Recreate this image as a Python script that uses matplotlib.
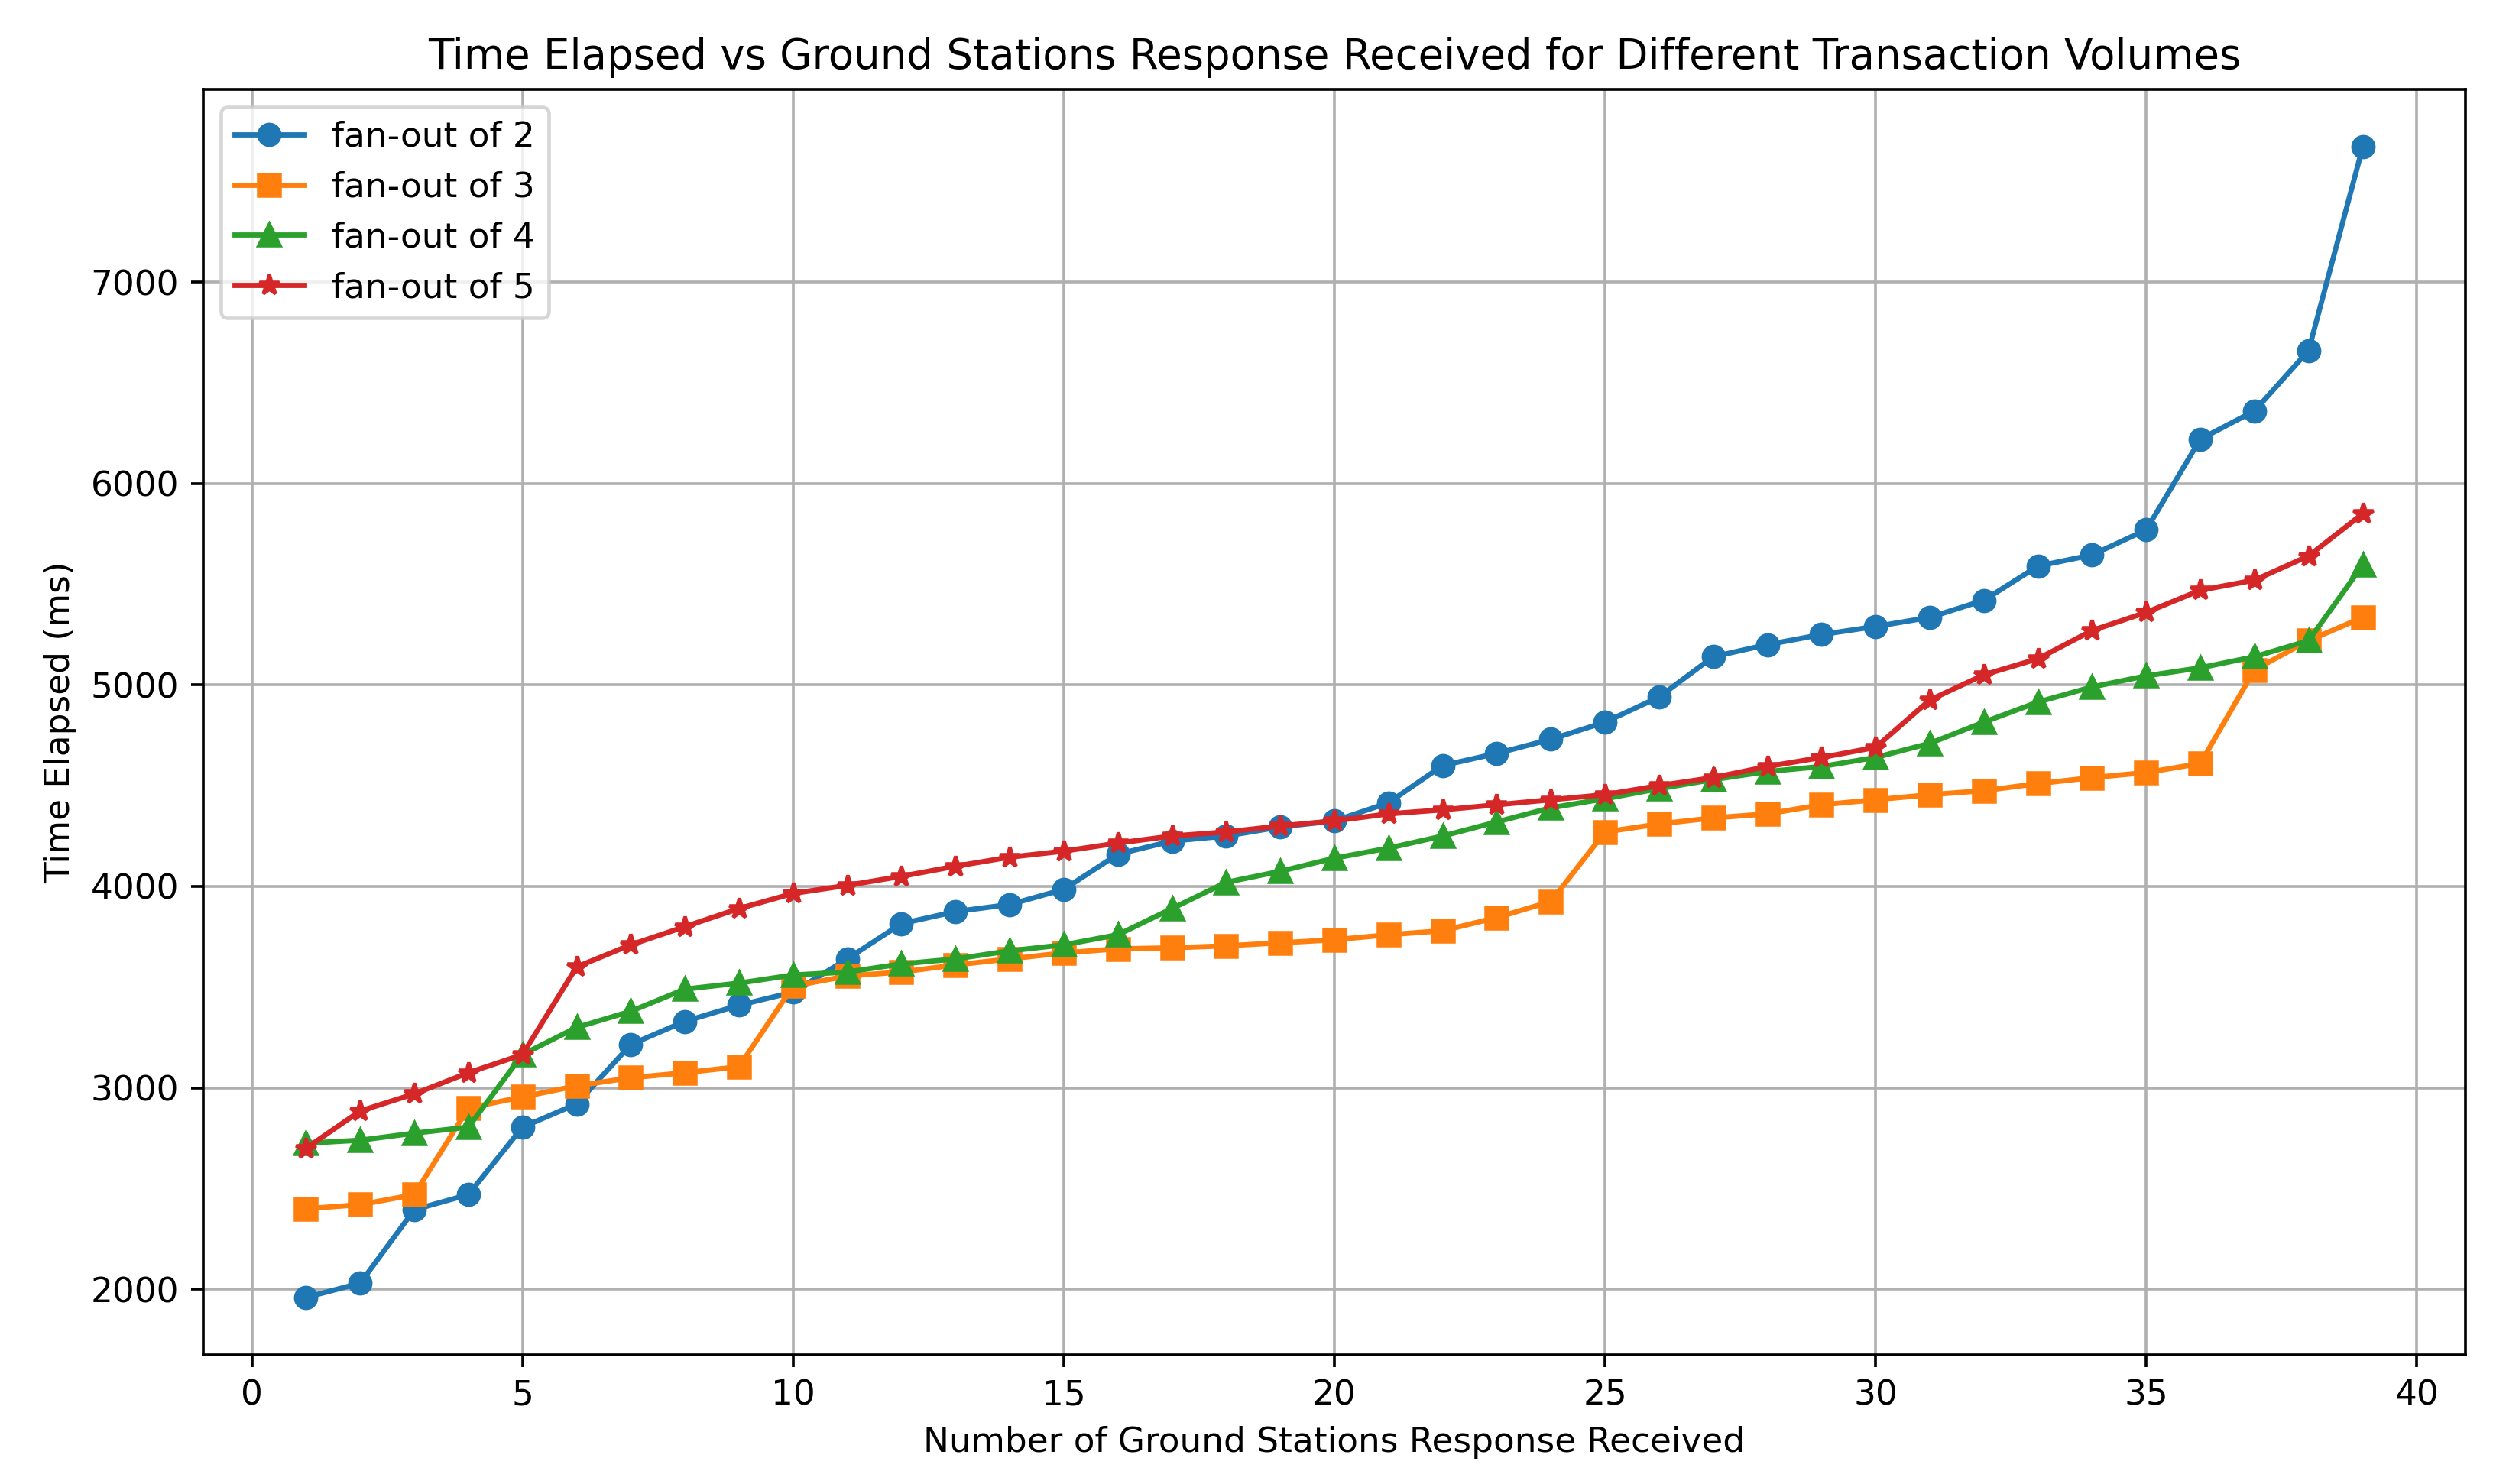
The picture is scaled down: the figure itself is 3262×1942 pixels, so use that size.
import matplotlib
matplotlib.use("Agg")
import matplotlib.pyplot as plt

stations = list(range(1, 40))

fanout_2 = [1960, 2030, 2395, 2470, 2805, 2920, 3215, 3330, 3410, 3475,
            3640, 3815, 3875, 3910, 3985, 4160, 4225, 4250, 4295, 4325,
            4415, 4600, 4660, 4730, 4815, 4940, 5140, 5200, 5250, 5290,
            5335, 5420, 5590, 5645, 5770, 6220, 6360, 6660, 7670]
fanout_3 = [2400, 2420, 2470, 2900, 2955, 3010, 3050, 3075, 3105, 3505,
            3555, 3575, 3610, 3640, 3670, 3690, 3695, 3705, 3720, 3735,
            3760, 3780, 3845, 3925, 4270, 4310, 4340, 4360, 4405, 4430,
            4455, 4475, 4510, 4540, 4565, 4610, 5075, 5220, 5335]
fanout_4 = [2725, 2740, 2775, 2805, 3165, 3300, 3380, 3490, 3520, 3560,
            3575, 3615, 3640, 3680, 3710, 3760, 3890, 4020, 4075, 4140,
            4190, 4250, 4320, 4390, 4435, 4485, 4530, 4570, 4595, 4640,
            4710, 4815, 4915, 4990, 5045, 5085, 5140, 5220, 5595]
fanout_5 = [2700, 2885, 2970, 3075, 3165, 3600, 3710, 3800, 3890, 3965,
            4005, 4050, 4100, 4145, 4175, 4215, 4250, 4270, 4300, 4325,
            4360, 4380, 4405, 4430, 4455, 4500, 4540, 4595, 4640, 4690,
            4925, 5050, 5130, 5270, 5360, 5470, 5520, 5640, 5850]

dpi = 327
fig = plt.figure(figsize=(3262 / dpi, 1942 / dpi), dpi=dpi)
ax = fig.add_axes([0.0815, 0.087, 0.9075, 0.8527])

ax.plot(stations, fanout_2, marker='o', label='fan-out of 2')
ax.plot(stations, fanout_3, marker='s', label='fan-out of 3')
ax.plot(stations, fanout_4, marker='^', label='fan-out of 4')
ax.plot(stations, fanout_5, marker='*', label='fan-out of 5')

ax.set_title('Time Elapsed vs Ground Stations Response Received for Different Transaction Volumes')
ax.set_xlabel('Number of Ground Stations Response Received')
ax.set_ylabel('Time Elapsed (ms)')
ax.grid(True)
ax.legend(loc='upper left')

fig.savefig('out.png', dpi=dpi)
